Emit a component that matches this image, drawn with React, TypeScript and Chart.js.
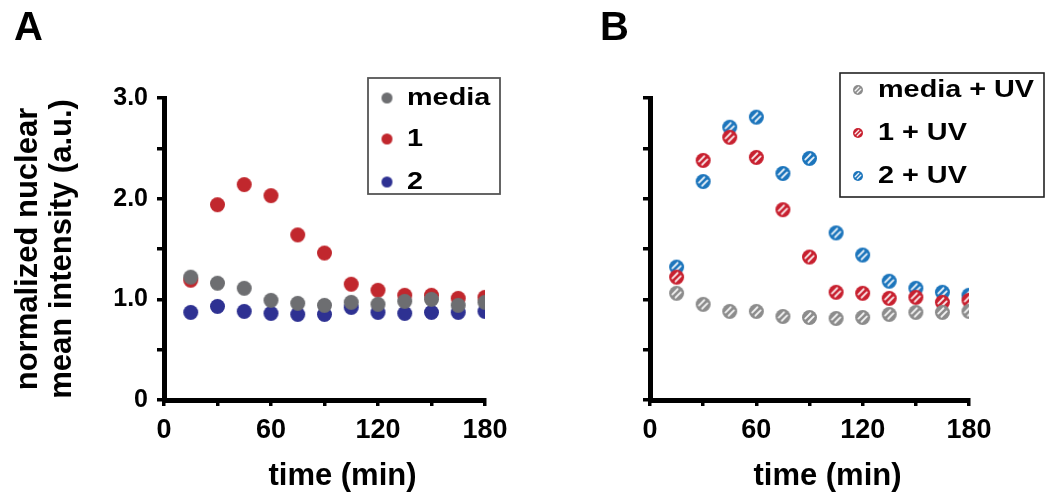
import React, { useEffect, useRef } from 'react';
import { Chart, registerables } from 'chart.js';
Chart.register(...registerables);

const FONT = '"Liberation Sans", Arial, Helvetica, sans-serif';

const times = [15, 30, 45, 60, 75, 90, 105, 120, 135, 150, 165, 180];
const mediaA = [1.22, 1.16, 1.11, 0.99, 0.96, 0.94, 0.97, 0.95, 0.98, 1.0, 0.94, 0.97];
const cmpd1A = [1.19, 1.94, 2.14, 2.03, 1.64, 1.46, 1.15, 1.09, 1.04, 1.04, 1.01, 1.02];
const cmpd2A = [0.87, 0.93, 0.88, 0.86, 0.85, 0.85, 0.92, 0.87, 0.86, 0.87, 0.87, 0.88];
const mediaB = [1.06, 0.95, 0.88, 0.88, 0.83, 0.82, 0.81, 0.82, 0.85, 0.87, 0.87, 0.88];
const cmpd1B = [1.22, 2.38, 2.61, 2.41, 1.89, 1.42, 1.07, 1.06, 1.01, 1.02, 0.97, 0.99];
const cmpd2B = [1.32, 2.17, 2.71, 2.81, 2.25, 2.4, 1.66, 1.44, 1.18, 1.11, 1.07, 1.04];

const labelsA = ['media', '1', '2'];
const labelsB = ['media + UV', '1 + UV', '2 + UV'];
const xTickLabels = [0, 60, 120, 180];
const yTickLabels = [0, 1, 2, 3];
const xTitle = 'time (min)';
const yTitle = ['normalized nuclear', 'mean intensity (a.u.)'];

const colorsA = ['#6d6e71', '#c1272d', '#2e3192'];
const colorsB = ['#8c8c8c', '#c8202f', '#1c75bc'];

function hatchedDot(color: string, r: number, stripe: number): HTMLCanvasElement {
  const size = Math.ceil(2 * r + 2);
  const c = document.createElement('canvas');
  c.width = size;
  c.height = size;
  const ctx = c.getContext('2d')!;
  const cx = size / 2;
  const cy = size / 2;
  ctx.beginPath();
  ctx.arc(cx, cy, r, 0, Math.PI * 2);
  ctx.fillStyle = color;
  ctx.fill();
  ctx.save();
  ctx.clip();
  ctx.strokeStyle = 'rgba(255,255,255,0.9)';
  ctx.lineWidth = stripe;
  ctx.lineCap = 'round';
  const d = r * 0.3;
  const L = r * 0.5;
  const k = Math.SQRT1_2;
  for (const s of [-1, 1]) {
    const ox = s * d * k;
    const oy = s * d * k;
    ctx.beginPath();
    ctx.moveTo(cx + ox - L * k, cy + oy + L * k);
    ctx.lineTo(cx + ox + L * k, cy + oy - L * k);
    ctx.stroke();
  }
  ctx.restore();
  return c;
}

function plainDot(color: string, r: number): HTMLCanvasElement {
  const size = Math.ceil(2 * r + 2);
  const c = document.createElement('canvas');
  c.width = size;
  c.height = size;
  const ctx = c.getContext('2d')!;
  ctx.beginPath();
  ctx.arc(size / 2, size / 2, r, 0, Math.PI * 2);
  ctx.fillStyle = color;
  ctx.fill();
  return c;
}

type LegendGeom = {
  box: [number, number, number, number];
  borderColor: string;
  borderWidth: number;
  markerX: number;
  textX: number;
  rowY: number[];
  fontSize: number;
  stretch: number;
  markers: HTMLCanvasElement[];
};

function makeOverlayPlugin(geom: LegendGeom) {
  return {
    id: 'overlay',
    afterDraw(chart: any) {
      const ctx = chart.ctx as CanvasRenderingContext2D;
      const ca = chart.chartArea;
      ctx.save();
      // x-axis title
      ctx.font = `bold 31px ${FONT}`;
      ctx.fillStyle = '#000';
      ctx.textAlign = 'center';
      ctx.textBaseline = 'middle';
      ctx.fillText(xTitle, (ca.left + ca.right) / 2 + 18, 476);
      // legend box
      const [bx, by, bw, bh] = geom.box;
      ctx.lineWidth = geom.borderWidth;
      ctx.strokeStyle = geom.borderColor;
      ctx.strokeRect(bx, by, bw, bh);
      chart.data.datasets.forEach((ds: any, i: number) => {
        const y = geom.rowY[i];
        const mk = geom.markers[i];
        ctx.drawImage(mk, geom.markerX - mk.width / 2, y - mk.height / 2);
        ctx.save();
        ctx.translate(geom.textX, y);
        ctx.scale(geom.stretch, 1);
        ctx.font = `bold ${geom.fontSize}px ${FONT}`;
        ctx.fillStyle = '#000';
        ctx.textAlign = 'left';
        ctx.textBaseline = 'middle';
        ctx.fillText(ds.label, 0, 0);
        ctx.restore();
      });
      ctx.restore();
    },
  };
}

function makeConfig(panel: 'A' | 'B'): any {
  const isA = panel === 'A';
  const series = isA ? [mediaA, cmpd1A, cmpd2A] : [mediaB, cmpd1B, cmpd2B];
  const labels = isA ? labelsA : labelsB;
  const colors = isA ? colorsA : colorsB;
  const pointImgs = colors.map((c) => (isA ? plainDot(c, 7.5) : hatchedDot(c, 7.5, 1.8)));
  const legendImgs = colors.map((c) => (isA ? plainDot(c, 5.5) : hatchedDot(c, 5, 1.4)));
  const yAxisLeft = isA ? 164 : 126;
  const rightPad = isA ? 39 : 79;

  const geom: LegendGeom = isA
    ? {
        box: [368, 78, 132, 116],
        borderColor: '#555',
        borderWidth: 1.8,
        markerX: 387,
        textX: 407,
        rowY: [98, 139, 182],
        fontSize: 24,
        stretch: 1.2,
        markers: legendImgs,
      }
    : {
        box: [840 - 524, 73, 204, 124],
        borderColor: '#222',
        borderWidth: 1.6,
        markerX: 858 - 524,
        textX: 878 - 524,
        rowY: [90, 133, 176],
        fontSize: 24,
        stretch: 1.2,
        markers: legendImgs,
      };

  const gridOpts = (len: number) => ({
    display: true,
    drawOnChartArea: false,
    drawTicks: true,
    tickLength: len,
    lineWidth: 3.5,
    tickWidth: 3.5,
    color: '#000',
    tickColor: '#000',
  });

  return {
    type: 'scatter',
    data: {
      datasets: series.map((vals, i) => ({
        label: labels[i],
        data: times.map((t, j) => ({ x: t, y: vals[j] })),
        pointStyle: pointImgs[i],
        pointRadius: 7.5,
        backgroundColor: colors[i],
        borderColor: colors[i],
        borderWidth: 0,
        showLine: false,
      })),
    },
    options: {
      animation: false,
      responsive: false,
      events: [],
      layout: { padding: { left: 0, top: 98, right: rightPad, bottom: 0 } },
      plugins: {
        legend: { display: false },
        tooltip: { enabled: false },
        title: { display: false },
      },
      scales: {
        x: {
          type: 'linear',
          min: 0,
          max: 180,
          afterFit: (s: any) => {
            s.height = 94;
          },
          afterBuildTicks: (s: any) => {
            s.ticks = [0, 30, 60, 90, 120, 150, 180].map((v) => ({ value: v }));
          },
          ticks: {
            autoSkip: false,
            maxRotation: 0,
            padding: 8,
            color: '#000',
            font: { family: FONT, size: 27, weight: 'bold' },
            callback: (v: number) => (xTickLabels.includes(v) ? String(v) : ''),
          },
          grid: gridOpts(6),
          border: { display: true, color: '#000', width: 5 },
          title: { display: false },
        },
        y: {
          type: 'linear',
          min: 0,
          max: 3,
          afterFit: (s: any) => {
            s.width = yAxisLeft;
          },
          afterBuildTicks: (s: any) => {
            s.ticks = [0, 0.5, 1, 1.5, 2, 2.5, 3].map((v) => ({ value: v }));
          },
          ticks: {
            display: isA,
            autoSkip: false,
            padding: 9,
            color: '#000',
            font: { family: FONT, size: 25, weight: 'bold' },
            callback: (v: number) =>
              yTickLabels.includes(v) ? (v === 0 ? '0' : v.toFixed(1)) : '',
          },
          grid: gridOpts(7),
          border: { display: true, color: '#000', width: 5 },
          title: {
            display: isA,
            text: yTitle,
            color: '#000',
            font: { family: FONT, size: 31, weight: 'bold', lineHeight: 34 / 31 },
            padding: { top: 11.5, bottom: 0 },
          },
        },
      },
    },
    plugins: [makeOverlayPlugin(geom)],
  };
}

function Panel({ panel, left }: { panel: 'A' | 'B'; left: number }) {
  const ref = useRef<HTMLCanvasElement>(null);
  useEffect(() => {
    if (!ref.current) return;
    const chart = new Chart(ref.current, makeConfig(panel));
    return () => chart.destroy();
  }, [panel]);
  return (
    <canvas
      ref={ref}
      width={524}
      height={494}
      style={{ position: 'absolute', left, top: 0, width: 524, height: 494 }}
    />
  );
}

export default function App() {
  const letterStyle: React.CSSProperties = {
    position: 'absolute',
    top: 6,
    fontFamily: FONT,
    fontWeight: 'bold',
    fontSize: 40,
    lineHeight: '40px',
    color: '#000',
  };
  return (
    <div
      style={{
        position: 'fixed',
        left: 0,
        top: 0,
        width: 1048,
        height: 494,
        background: '#fff',
        overflow: 'hidden',
      }}
    >
      <Panel panel="A" left={0} />
      <Panel panel="B" left={524} />
      <div style={{ ...letterStyle, left: 14 }}>A</div>
      <div style={{ ...letterStyle, left: 600 }}>B</div>
    </div>
  );
}
